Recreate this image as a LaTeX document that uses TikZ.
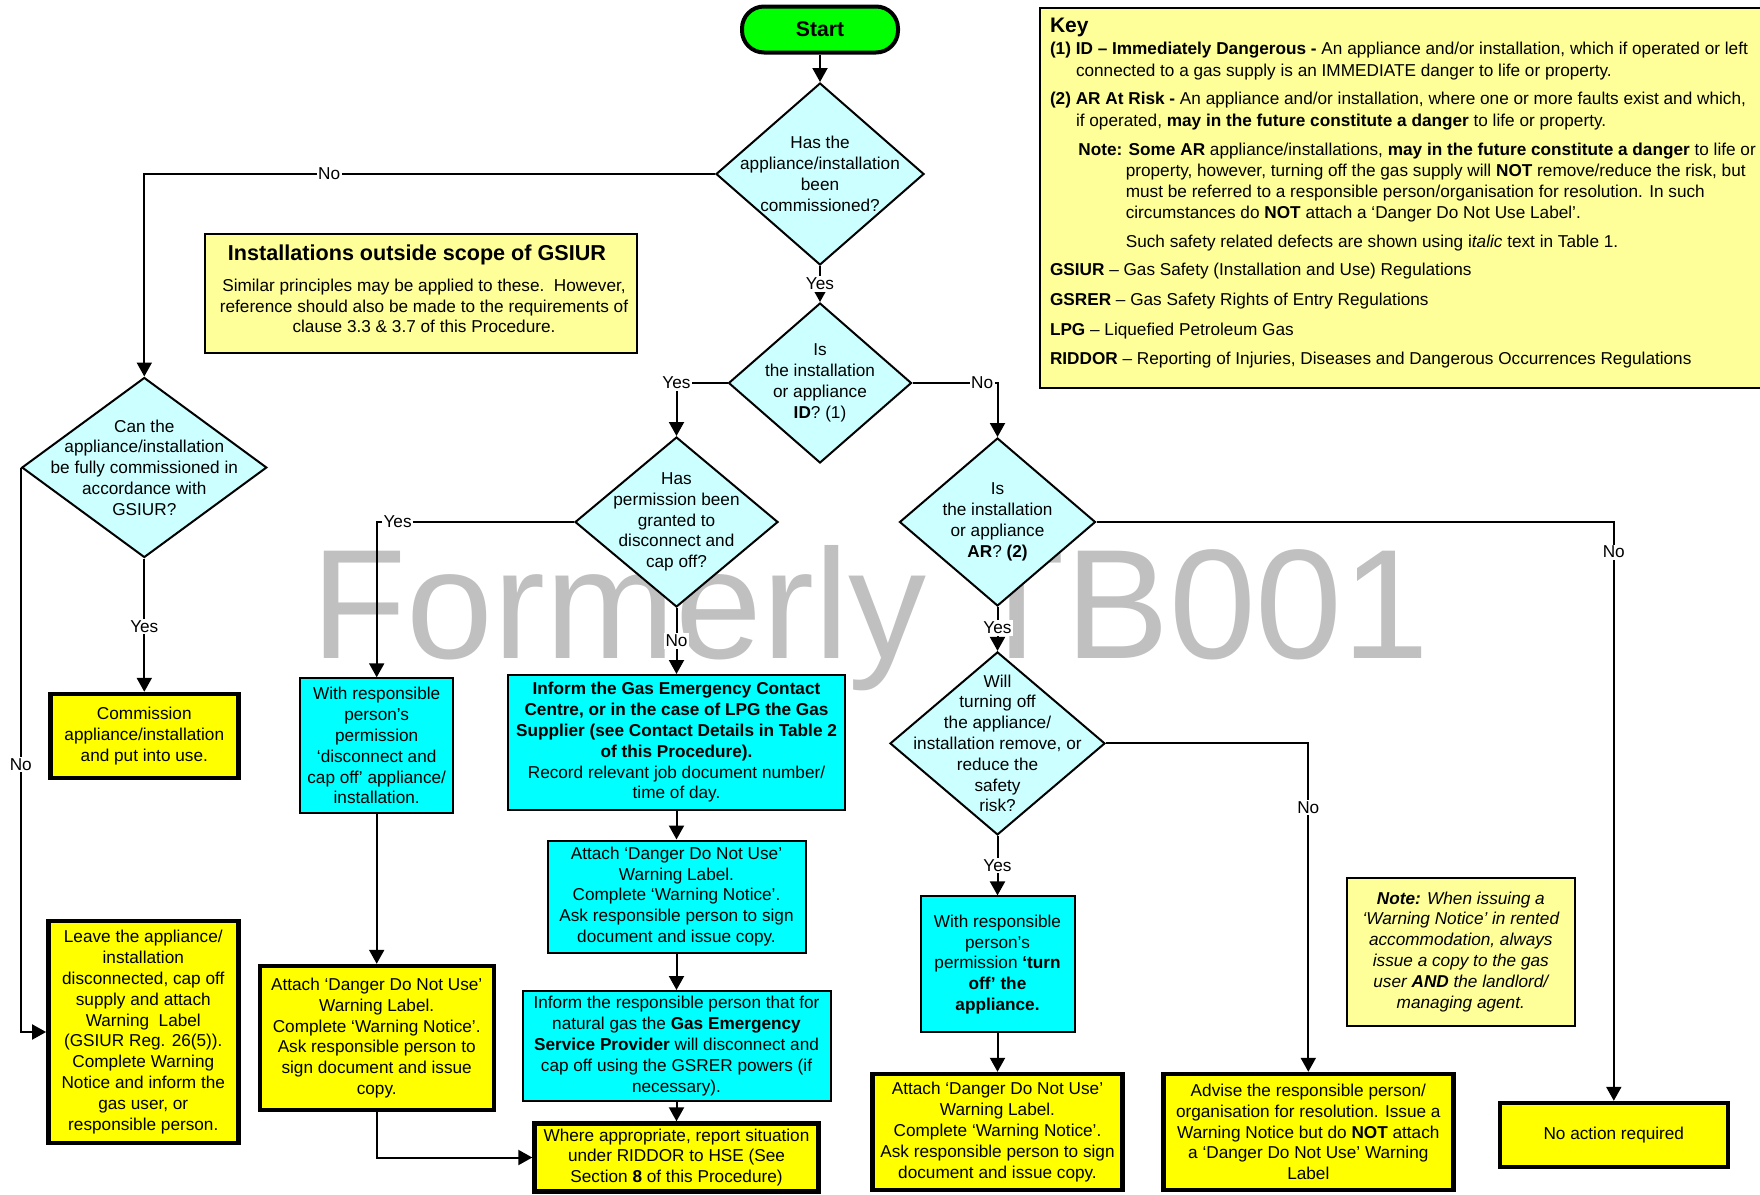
\documentclass[tikz,border=0pt]{standalone}
\usepackage{fontspec}
\setmainfont{Liberation Sans}
\usetikzlibrary{shapes.geometric,arrows.meta}
\definecolor{cyanbox}{HTML}{00FFFF}
\definecolor{diacyan}{HTML}{CCFFFF}
\definecolor{yelbox}{HTML}{FFFF00}
\definecolor{paleyel}{HTML}{FFFF99}
\definecolor{startgreen}{HTML}{00FF00}
\definecolor{wmgray}{HTML}{C0C0C0}
\tikzset{
  txt/.style={font=\fontsize{8.6}{10.4}\selectfont, align=center, inner sep=0pt},
  cbox/.style={txt, draw, line width=1pt, fill=cyanbox},
  ybox/.style={txt, draw, line width=2.2pt, fill=yelbox},
  pbox/.style={txt, draw, line width=1pt, fill=paleyel},
  dia/.style={diamond, draw, line width=1pt, fill=diacyan, inner sep=0pt},
  arr/.style={line width=1pt, -{Triangle[length=7pt,width=7.5pt]}},
  conn/.style={line width=1pt},
  lbl/.style={font=\fontsize{8.6}{10.4}\selectfont, fill=white, inner sep=0.8pt},
  keyline/.style={font=\fontsize{8.6}{10.4}\selectfont, anchor=base west, inner sep=0pt},
}
\begin{document}
\begin{tikzpicture}[x=0.5pt,y=-0.5pt]
\useasboundingbox (0,0) rectangle (1760,1194);
\clip (0,0) rectangle (1760,1194);

% watermark
\node[anchor=base west, inner sep=0pt, text=wmgray, font=\fontsize{78}{80}\selectfont] (wm) at (311,658) {Formerly TB001};

% key
\node[pbox, anchor=north west, minimum width=368pt, minimum height=190pt, line width=1.1pt] (key) at (1039,7) {};
\node[keyline, font=\fontsize{10.5}{12}\selectfont\bfseries] (k0) at (1049.6,32.5) {Key};
\node[keyline] (k1) at (1049.6,54.5) {\textbf{(1) ID – Immediately Dangerous -} An appliance and/or installation, which if operated or left};
\node[keyline] (k2) at (1075.6,76) {connected to a gas supply is an IMMEDIATE danger to life or property.};
\node[keyline] (k3) at (1049.6,104.5) {\textbf{(2) AR At Risk -} An appliance and/or installation, where one or more faults exist and which,};
\node[keyline] (k4) at (1075.6,126) {if operated, \textbf{may in the future constitute a danger} to life or property.};
\node[keyline] (k5) at (1078,155.5) {\textbf{Note: Some AR} appliance/installations, \textbf{may in the future constitute a danger} to life or};
\node[keyline] (k6) at (1125.4,176) {property, however, turning off the gas supply will \textbf{NOT} remove/reduce the risk, but};
\node[keyline] (k7) at (1125.4,197) {must be referred to a responsible person/organisation for resolution. In such};
\node[keyline] (k8) at (1125.4,218) {circumstances do \textbf{NOT} attach a ‘Danger Do Not Use Label’.};
\node[keyline] (k9) at (1125.4,247) {Such safety related defects are shown using i\textit{talic} text in Table 1.};
\node[keyline] (k10) at (1049.6,275.5) {\textbf{GSIUR} – Gas Safety (Installation and Use) Regulations};
\node[keyline] (k11) at (1049.6,305.5) {\textbf{GSRER} – Gas Safety Rights of Entry Regulations};
\node[keyline] (k12) at (1049.6,335.5) {\textbf{LPG} – Liquefied Petroleum Gas};
\node[keyline] (k13) at (1049.6,364.5) {\textbf{RIDDOR} – Reporting of Injuries, Diseases and Dangerous Occurrences Regulations};

% scope box
\node[pbox, minimum width=216pt, minimum height=59.5pt] (scope) at (421,293.5) {};
\node[inner sep=0pt, font=\fontsize{10.8}{12}\selectfont\bfseries] (scopet) at (417,255) {Installations outside scope of GSIUR};
\node[txt] (scopeb) at (424,306) {Similar principles may be applied to these.\ \ However,\\reference should also be made to the requirements of\\clause 3.3 \& 3.7 of this Procedure.};

% start
\node[draw, line width=2pt, fill=startgreen, rounded corners=11pt, minimum width=78pt, minimum height=23pt, inner sep=0pt, font=\fontsize{10.6}{12}\selectfont\bfseries] (start) at (820,29.5) {Start};

% diamonds
\node[dia, minimum width=104pt, minimum height=91pt] (d1) at (820,174) {};
\node[txt] (d1t) at (d1) {Has the\\appliance/installation\\been\\commissioned?};
\node[dia, minimum width=91.5pt, minimum height=80pt] (d2) at (820,383) {};
\node[txt] (d2t) at (d2) {Is\\the installation\\or appliance\\\textbf{ID}? (1)};
\node[dia, minimum width=98pt, minimum height=84pt] (d3) at (997.5,522) {};
\node[txt] (d3t) at (d3) {Is\\the installation\\or appliance\\\textbf{AR}? \textbf{(2)}};
\node[dia, minimum width=101.5pt, minimum height=85pt] (d4) at (676.5,522) {};
\node[txt] (d4t) at (d4) {Has\\permission been\\granted to\\disconnect and\\cap off?};
\node[dia, minimum width=122.5pt, minimum height=90pt] (d5) at (144.3,467.5) {};
\node[txt] (d5t) at (d5) {Can the\\appliance/installation\\be fully commissioned in\\accordance with\\GSIUR?};
\node[dia, minimum width=107.5pt, minimum height=91.5pt] (d6) at (997.5,743.4) {};
\node[txt] (d6t) at (d6) {Will\\turning off\\the appliance/\\installation remove, or\\reduce the\\safety\\risk?};

% boxes
\node[cbox, minimum width=76.5pt, minimum height=67.5pt] (b1) at (376.7,745.8) {With responsible\\person’s\\permission\\‘disconnect and\\cap off’ appliance/\\installation.};
\node[cbox, minimum width=168.5pt, minimum height=67.5pt] (b2) at (676.5,742.5) {\textbf{Inform the Gas Emergency Contact}\\\textbf{Centre, or in the case of LPG the Gas}\\\textbf{Supplier (see Contact Details in Table 2}\\\textbf{of this Procedure).}\\Record relevant job document number/\\time of day.};
\node[cbox, minimum width=129pt, minimum height=56pt] (b3) at (676.5,896.5) {Attach ‘Danger Do Not Use’\\Warning Label.\\Complete ‘Warning Notice’.\\Ask responsible person to sign\\document and issue copy.};
\node[cbox, minimum width=154pt, minimum height=55pt] (b4) at (676.5,1046) {Inform the responsible person that for\\natural gas the \textbf{Gas Emergency}\\\textbf{Service Provider} will disconnect and\\cap off using the GSRER powers (if\\necessary).};
\node[ybox, minimum width=142pt, minimum height=34pt] (b5) at (676.5,1157.5) {Where appropriate, report situation\\under RIDDOR to HSE (See\\Section \textbf{8} of this Procedure)};
\node[ybox, minimum width=117pt, minimum height=72pt] (b6) at (376.7,1038) {Attach ‘Danger Do Not Use’\\Warning Label.\\Complete ‘Warning Notice’.\\Ask responsible person to\\sign document and issue\\copy.};
\node[ybox, minimum width=95pt, minimum height=111pt] (b7) at (143.3,1032) {Leave the appliance/\\installation\\disconnected, cap off\\supply and attach\\Warning\ \ Label\\(GSIUR Reg. 26(5)).\\Complete Warning\\Notice and inform the\\gas user, or\\responsible person.};
\node[ybox, minimum width=94pt, minimum height=42pt] (b8) at (144.3,736) {Commission\\appliance/installation\\and put into use.};
\node[cbox, minimum width=77pt, minimum height=68pt] (b9) at (997.5,964.4) {With responsible\\person’s\\permission \textbf{‘turn}\\\textbf{off’ the}\\\textbf{appliance.}};
\node[ybox, minimum width=125pt, minimum height=58pt] (b10) at (997.5,1132) {Attach ‘Danger Do Not Use’\\Warning Label.\\Complete ‘Warning Notice’.\\Ask responsible person to sign\\document and issue copy.};
\node[ybox, minimum width=145pt, minimum height=58pt] (b11) at (1308.3,1132) {Advise the responsible person/\\organisation for resolution. Issue a\\Warning Notice but do \textbf{NOT} attach\\a ‘Danger Do Not Use’ Warning\\Label};
\node[ybox, minimum width=114pt, minimum height=32pt] (b12) at (1613.8,1135) {No action required};
\node[pbox, minimum width=114pt, minimum height=74pt, font=\fontsize{8.6}{10.4}\selectfont\itshape] (note) at (1460.8,951.7) {\textbf{Note:} When issuing a\\‘Warning Notice’ in rented\\accommodation, always\\issue a copy to the gas\\user \textbf{AND} the landlord/\\managing agent.};

% connectors
\draw[arr] (start.south) -- (d1.north);
\draw[arr] (d1.south) -- node[lbl] (l1) {Yes} (d2.north);
\draw[arr] (d1.west) -| node[lbl, pos=0.338] (l2) {No} (d5.north);
\draw[arr] (d2.east) -| node[lbl, pos=0.41] (l3) {No} (d3.north);
\draw[arr] (d2.west) -| node[lbl, pos=0.5] (l4) {Yes} (d4.north);
\draw[arr] (d4.west) -| node[lbl, pos=0.447] (l5) {Yes} (b1.north);
\draw[arr] (d4.south) -- node[lbl] (l6) {No} (b2.north);
\draw[arr] (b2.south) -- (b3.north);
\draw[arr] (b3.south) -- (b4.north);
\draw[arr] (b4.south) -- (b5.north);
\draw[arr] (b1.south) -- (b6.north);
\draw[arr] (b6.south) |- (b5.west);
\draw[arr] (d5.south) -- node[lbl, pos=0.51] (l7) {Yes} (b8.north);
\draw[arr] (d5.west) |- node[lbl, pos=0.263] (l8) {No} (b7.west);
\draw[arr] (d3.south) -- node[lbl, pos=0.48] (l9) {Yes} (d6.north);
\draw[arr] (d6.south) -- node[lbl] (l10) {Yes} (b9.north);
\draw[arr] (b9.south) -- (b10.north);
\draw[arr] (d6.east) -| node[lbl, pos=0.598] (l11) {No} (b11.north);
\draw[arr] (d3.east) -| node[lbl, pos=0.526] (l12) {No} (b12.north);
\end{tikzpicture}
\end{document}
